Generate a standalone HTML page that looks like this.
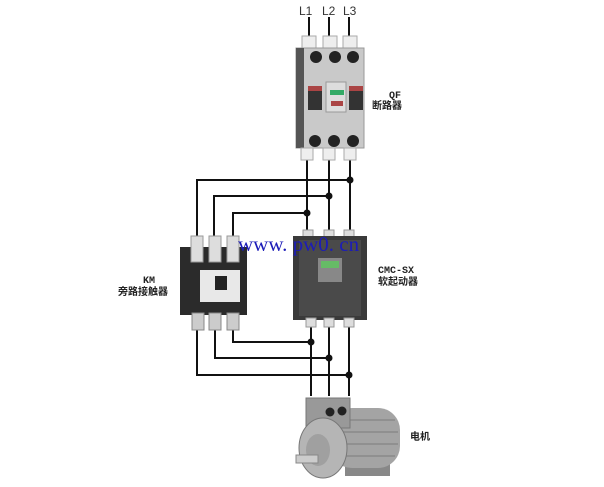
<!DOCTYPE html>
<html><head><meta charset="utf-8"><style>
html,body{margin:0;padding:0;background:#fff;}
svg{display:block}
</style></head><body>
<svg width="604" height="487" viewBox="0 0 604 487" xmlns="http://www.w3.org/2000/svg">
<rect width="604" height="487" fill="#fff"/>
<g font-family="Liberation Sans, sans-serif" font-size="12" fill="#333">
<text x="299" y="15">L1</text><text x="322" y="15">L2</text><text x="343" y="15">L3</text>
</g>
<g stroke="#111" stroke-width="2" fill="none">
<line x1="309" y1="17" x2="309" y2="38"/><line x1="329" y1="17" x2="329" y2="38"/><line x1="349" y1="17" x2="349" y2="38"/>
<line x1="307" y1="158" x2="307" y2="234"/><line x1="329" y1="158" x2="329" y2="234"/><line x1="350" y1="158" x2="350" y2="234"/>
<polyline points="350,180 197,180 197,244"/>
<polyline points="329,196 214,196 214,244"/>
<polyline points="307,213 233,213 233,244"/>
<line x1="311" y1="322" x2="311" y2="396"/><line x1="329" y1="322" x2="329" y2="396"/><line x1="349" y1="322" x2="349" y2="396"/>
<polyline points="233,325 233,342 311,342"/>
<polyline points="215,325 215,358 329,358"/>
<polyline points="197,325 197,375 349,375"/>
</g>
<g fill="#111">
<circle cx="350" cy="180" r="3.5"/><circle cx="329" cy="196" r="3.5"/><circle cx="307" cy="213" r="3.5"/>
<circle cx="311" cy="342" r="3.5"/><circle cx="329" cy="358" r="3.5"/><circle cx="349" cy="375" r="3.5"/>
</g>
<g>
<rect x="302" y="36" width="14" height="14" fill="#eee" stroke="#aaa"/><rect x="323" y="36" width="14" height="14" fill="#eee" stroke="#aaa"/><rect x="343" y="36" width="14" height="14" fill="#eee" stroke="#aaa"/>
<rect x="296" y="48" width="68" height="100" fill="#c9c9c9" stroke="#999"/>
<rect x="296" y="48" width="8" height="100" fill="#555"/>
<circle cx="316" cy="57" r="6" fill="#222"/><circle cx="335" cy="57" r="6" fill="#222"/><circle cx="353" cy="57" r="6" fill="#222"/>
<rect x="308" y="86" width="14" height="24" fill="#333"/><rect x="349" y="86" width="14" height="24" fill="#333"/>
<rect x="308" y="86" width="14" height="5" fill="#a44"/><rect x="349" y="86" width="14" height="5" fill="#a44"/>
<rect x="326" y="82" width="20" height="30" fill="#ddd" stroke="#999"/>
<rect x="330" y="90" width="14" height="5" fill="#3a6"/><rect x="331" y="101" width="12" height="5" fill="#a44"/>
<circle cx="315" cy="141" r="6" fill="#222"/><circle cx="334" cy="141" r="6" fill="#222"/><circle cx="353" cy="141" r="6" fill="#222"/>
<rect x="301" y="148" width="12" height="12" fill="#eee" stroke="#aaa"/><rect x="323" y="148" width="12" height="12" fill="#eee" stroke="#aaa"/><rect x="344" y="148" width="12" height="12" fill="#eee" stroke="#aaa"/>
</g>
<g>
<rect x="180" y="247" width="67" height="68" fill="#2b2b2b"/>
<rect x="191" y="236" width="12" height="26" fill="#ddd" stroke="#999"/><rect x="209" y="236" width="12" height="26" fill="#ddd" stroke="#999"/><rect x="227" y="236" width="12" height="26" fill="#ddd" stroke="#999"/>
<rect x="200" y="270" width="40" height="32" fill="#e8e8e8"/>
<rect x="215" y="276" width="12" height="14" fill="#222"/>
<rect x="192" y="313" width="12" height="17" fill="#ccc" stroke="#888"/><rect x="209" y="313" width="12" height="17" fill="#ccc" stroke="#888"/><rect x="227" y="313" width="12" height="17" fill="#ccc" stroke="#888"/>
</g>
<g>
<rect x="303" y="230" width="10" height="10" fill="#ddd" stroke="#999"/><rect x="324" y="230" width="10" height="10" fill="#ddd" stroke="#999"/><rect x="344" y="230" width="10" height="10" fill="#ddd" stroke="#999"/>
<rect x="293" y="236" width="74" height="84" fill="#3a3a3a"/>
<rect x="299" y="240" width="62" height="76" fill="#4a4a4a"/>
<rect x="318" y="258" width="24" height="24" fill="#888"/><rect x="321" y="261" width="18" height="7" fill="#6b6"/>
<rect x="306" y="318" width="10" height="9" fill="#ddd" stroke="#999"/><rect x="324" y="318" width="10" height="9" fill="#ddd" stroke="#999"/><rect x="344" y="318" width="10" height="9" fill="#ddd" stroke="#999"/>
</g>
<g>
<rect x="345" y="462" width="45" height="14" fill="#888"/>
<rect x="330" y="408" width="70" height="60" rx="22" fill="#a4a4a4"/>
<g stroke="#8a8a8a" stroke-width="1.5"><line x1="340" y1="420" x2="395" y2="420"/><line x1="340" y1="432" x2="398" y2="432"/><line x1="340" y1="444" x2="398" y2="444"/><line x1="340" y1="456" x2="395" y2="456"/></g>
<rect x="306" y="398" width="44" height="30" fill="#999" stroke="#777"/>
<circle cx="330" cy="412" r="4.5" fill="#222"/><circle cx="342" cy="411" r="4.5" fill="#222"/>
<ellipse cx="323" cy="448" rx="24" ry="30" fill="#b5b5b5" stroke="#777"/>
<ellipse cx="318" cy="450" rx="12" ry="16" fill="#a0a0a0"/>
<rect x="296" y="455" width="22" height="8" fill="#ccc" stroke="#888"/>
</g>
<text x="238" y="251" font-family="Liberation Serif, serif" font-size="21" fill="#1c1cb8">www. pw0. cn</text>
<g font-family="Liberation Mono, 'Noto Sans CJK SC', monospace" font-size="10" font-weight="bold" fill="#222">
<text x="389" y="98">QF</text>
<text x="372" y="109">断路器</text>
<text x="143" y="283">KM</text>
<text x="118" y="295">旁路接触器</text>
<text x="378" y="273">CMC-SX</text>
<text x="378" y="285">软起动器</text>
<text x="410" y="440">电机</text>
</g>
</svg>
</body></html>
